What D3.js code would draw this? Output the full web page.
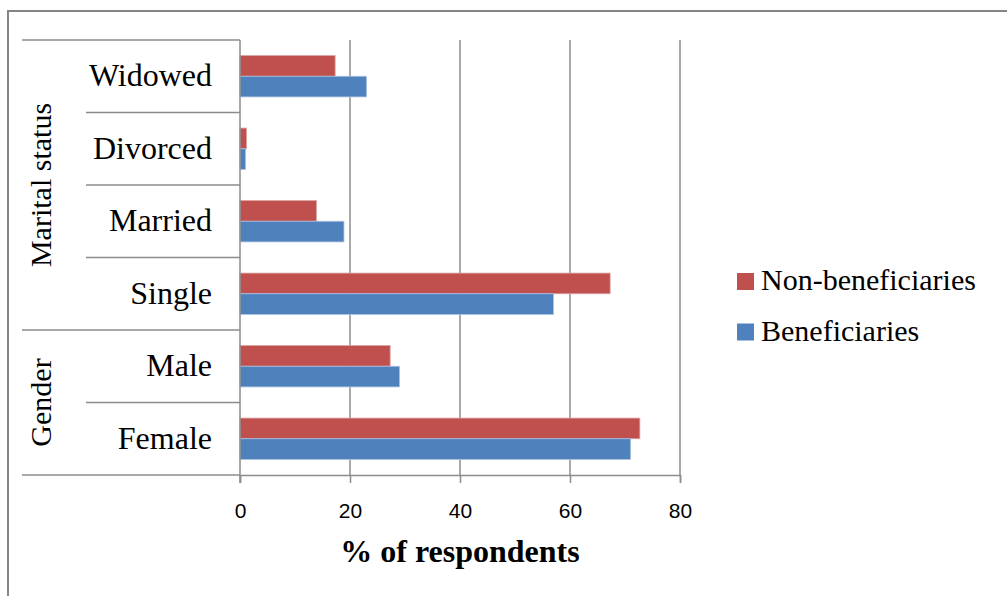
<!DOCTYPE html>
<html>
<head>
<meta charset="utf-8">
<script src="https://cdn.jsdelivr.net/npm/d3@7"></script>
<style>
  html, body { margin: 0; padding: 0; background: #fff; }
  svg { display: block; }
</style>
</head>
<body>
<svg id="chart" width="1007" height="596"></svg>
<script>
// Respondent profile: share of respondents (%) by gender and marital status
const categories = ["Widowed", "Divorced", "Married", "Single", "Male", "Female"];
const groups = [
  { name: "Marital status", members: ["Widowed", "Divorced", "Married", "Single"] },
  { name: "Gender", members: ["Male", "Female"] }
];
const nonBeneficiaries = [17.3, 1.2, 13.9, 67.3, 27.3, 72.7];
const beneficiaries = [23.0, 1.0, 18.9, 57.0, 29.0, 71.0];
const seriesNames = ["Non-beneficiaries", "Beneficiaries"];
const seriesColors = ["#c0504d", "#4f81bd"];
const xTicks = [0, 20, 40, 60, 80];
const xTitle = "% of respondents";

const svg = d3.select("#chart");
const gridColor = "#8c8c8c";
const serif = "'Liberation Serif', 'Times New Roman', serif";
const sans = "'Liberation Sans', Arial, sans-serif";

// Chart frame
svg.append("path")
  .attr("d", "M8,596 L8,11 L1007,11")
  .attr("fill", "none").attr("stroke", "#858585").attr("stroke-width", 2);

const plot = { left: 240, right: 680, top: 40, bottom: 475 };

const x = d3.scaleLinear().domain([0, 80]).range([plot.left, plot.right]);
const y = d3.scaleBand().domain(categories).range([plot.top, plot.bottom])
  .paddingInner(0.43).paddingOuter(0.215);
const band = d3.scaleBand().domain(categories).range([plot.top, plot.bottom]);
const sub = d3.scaleBand().domain(seriesNames).range([0, y.bandwidth()]);

// Vertical gridlines
svg.append("g").selectAll("line").data(xTicks.slice(1)).join("line")
  .attr("x1", d => x(d)).attr("x2", d => x(d))
  .attr("y1", plot.top).attr("y2", plot.bottom)
  .attr("stroke", gridColor).attr("stroke-width", 1.5);

// Bars
const rows = categories.map((c, i) => ({ c, vals: [nonBeneficiaries[i], beneficiaries[i]] }));
const rowG = svg.append("g").selectAll("g").data(rows).join("g")
  .attr("transform", d => `translate(0,${y(d.c)})`);
rowG.selectAll("rect").data(d => d.vals.map((v, k) => ({ v, k }))).join("rect")
  .attr("x", x(0))
  .attr("y", d => sub(seriesNames[d.k]))
  .attr("width", d => x(d.v) - x(0))
  .attr("height", sub.bandwidth())
  .attr("fill", d => seriesColors[d.k])
  .attr("stroke", d => d.k === 0 ? "#d9a3a1" : "#a9c0e0")
  .attr("stroke-width", 0.8);

// X axis
const xAxis = svg.append("g").attr("transform", `translate(0,${plot.bottom})`)
  .call(d3.axisBottom(x).tickValues(xTicks).tickSize(8).tickPadding(20));
xAxis.attr("font-size", null).attr("font-family", null);
xAxis.select(".domain").attr("stroke", gridColor).attr("stroke-width", 1.5);
xAxis.selectAll(".tick line").attr("stroke", gridColor).attr("stroke-width", 1.5);
xAxis.selectAll(".tick text")
  .style("font-family", sans).style("font-size", "21px").attr("fill", "#000");

svg.append("text")
  .attr("x", x(40)).attr("y", 562)
  .attr("text-anchor", "middle")
  .style("font-family", serif).style("font-size", "32px").attr("font-weight", "bold")
  .text(xTitle);

// Category axis (two-level)
const axisG = svg.append("g");
axisG.append("line")
  .attr("x1", plot.left).attr("x2", plot.left)
  .attr("y1", plot.top).attr("y2", plot.bottom + 8)
  .attr("stroke", gridColor).attr("stroke-width", 1.5);

const groupEdges = new Set();
let idx = 0;
groups.forEach(g => { groupEdges.add(idx); idx += g.members.length; groupEdges.add(idx); });
d3.range(categories.length + 1).forEach(i => {
  const yy = i < categories.length ? band(categories[i]) : plot.bottom;
  axisG.append("line")
    .attr("x1", groupEdges.has(i) ? 22 : 86).attr("x2", plot.left)
    .attr("y1", yy).attr("y2", yy)
    .attr("stroke", gridColor).attr("stroke-width", 1.5);
});

axisG.selectAll("text.cat").data(categories).join("text")
  .attr("class", "cat")
  .attr("x", 212)
  .attr("y", d => band(d) + band.bandwidth() / 2)
  .attr("dy", "0.32em")
  .attr("text-anchor", "end")
  .style("font-family", serif).style("font-size", "32px")
  .text(d => d);

groups.forEach(g => {
  const y0 = band(g.members[0]);
  const y1 = band(g.members[g.members.length - 1]) + band.bandwidth();
  axisG.append("text")
    .attr("transform", `translate(41,${(y0 + y1) / 2}) rotate(-90)`)
    .attr("dy", "0.32em")
    .attr("text-anchor", "middle")
    .style("font-family", serif).style("font-size", "30px")
    .text(g.name);
});

// Legend
const legend = svg.append("g").attr("transform", "translate(737,273)");
seriesNames.forEach((name, k) => {
  const lg = legend.append("g").attr("transform", `translate(0,${k * 50.5})`);
  lg.append("rect").attr("width", 17).attr("height", 17).attr("fill", seriesColors[k]);
  lg.append("text").attr("x", 24).attr("y", 17)
    .style("font-family", serif).style("font-size", "30px").text(name);
});
</script>
</body>
</html>
